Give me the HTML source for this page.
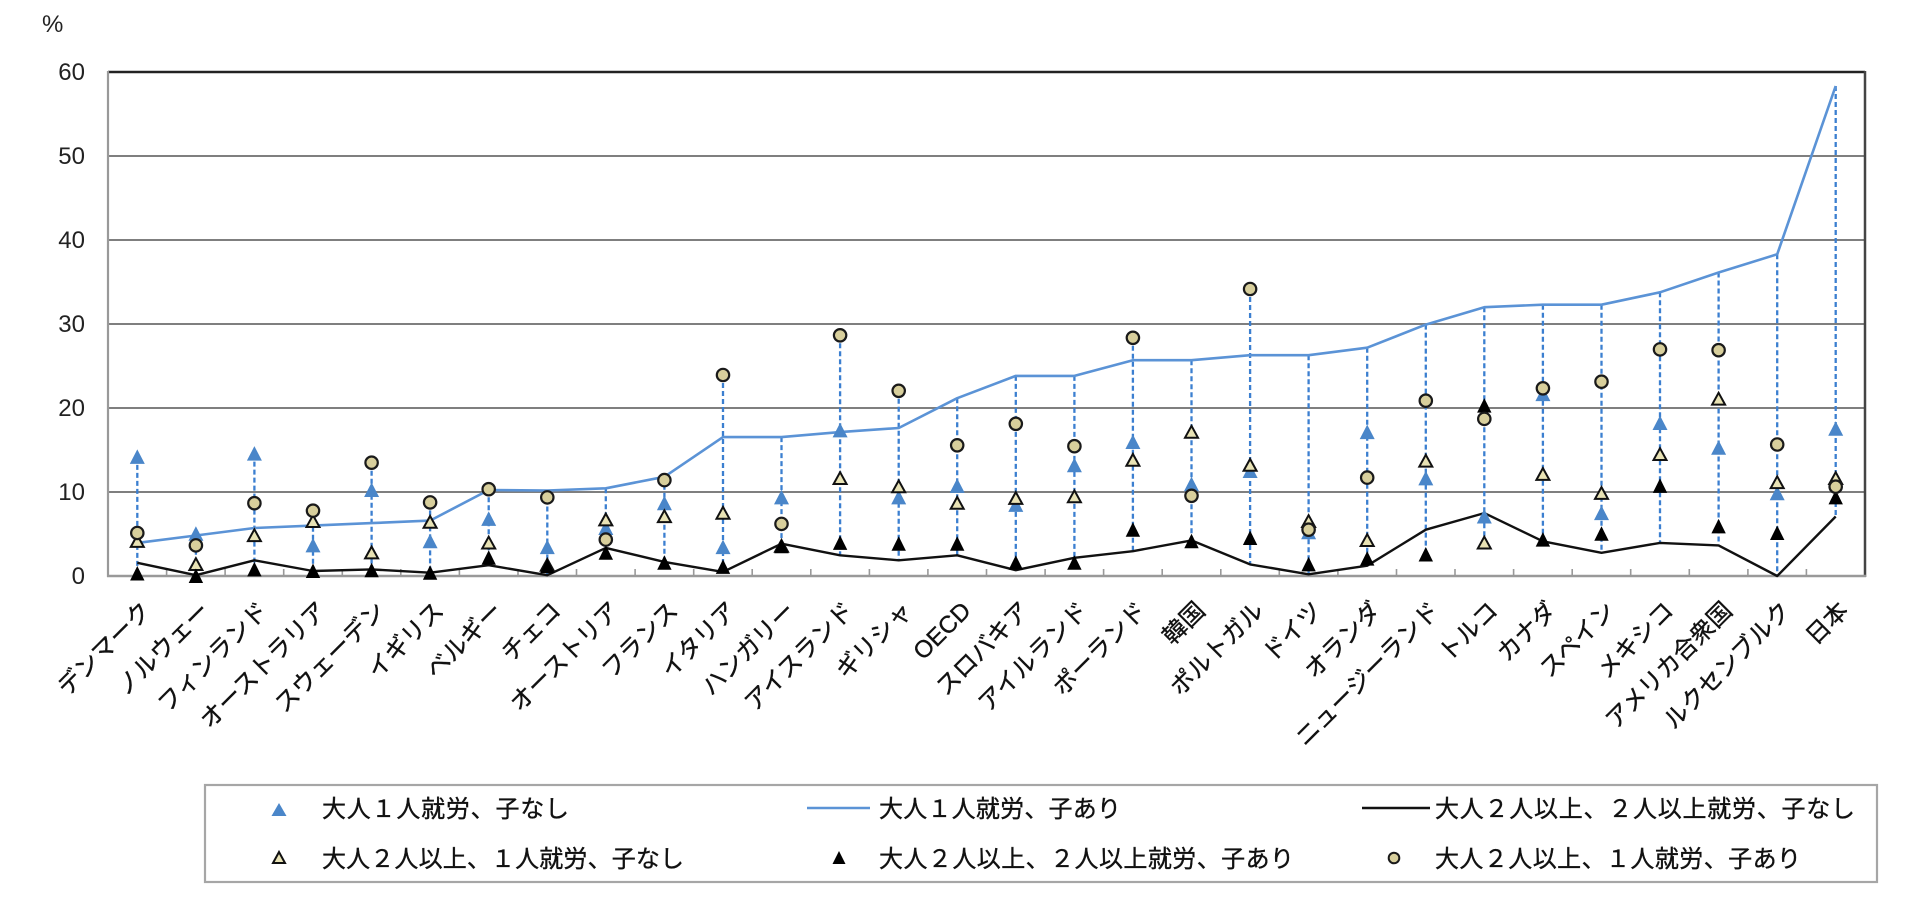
<!DOCTYPE html>
<html><head><meta charset="utf-8"><style>
html,body{margin:0;padding:0;background:#fff;}
svg{display:block;}
.yl{font-family:"Liberation Sans","Noto Sans CJK JP",sans-serif;font-size:24px;fill:#222;}
.xl{font-family:"Liberation Sans","Noto Sans CJK JP",sans-serif;font-size:24px;fill:#111;stroke:#111;stroke-width:0.35px;}
.lg{font-family:"Liberation Sans","Noto Sans CJK JP",sans-serif;font-size:24px;fill:#111;stroke:#111;stroke-width:0.35px;}
</style></head><body>
<svg width="1930" height="918" viewBox="0 0 1930 918" xmlns="http://www.w3.org/2000/svg">
<defs>
<path id="bt" d="M0,-7.5L7.5,7L-7.5,7Z" fill="#4a86c9"/>
<path id="ht" d="M0,-6.2L6.5,5.6L-6.5,5.6Z" fill="#e9e3b5" stroke="#111" stroke-width="2" stroke-linejoin="miter"/>
<path id="kt" d="M0,-7.5L7.2,7L-7.2,7Z" fill="#000"/>
<circle id="ci" r="6.2" fill="#d8cf9c" stroke="#1a1a1a" stroke-width="2.2"/>
</defs>
<rect width="1930" height="918" fill="#fff"/>

<text x="42" y="32" class="yl" font-size="22">%</text>

<g stroke="#7f7f7f" stroke-width="2">
<line x1="108" y1="156" x2="1865" y2="156"/>
<line x1="108" y1="240" x2="1865" y2="240"/>
<line x1="108" y1="324" x2="1865" y2="324"/>
<line x1="108" y1="408" x2="1865" y2="408"/>
<line x1="108" y1="492" x2="1865" y2="492"/>
</g>
<line x1="108" y1="72" x2="1865" y2="72" stroke="#222" stroke-width="2.5"/>
<line x1="108" y1="71" x2="108" y2="577" stroke="#999" stroke-width="2.2"/>
<line x1="1865" y1="71" x2="1865" y2="577" stroke="#444" stroke-width="2.5"/>
<line x1="107" y1="576" x2="1866" y2="576" stroke="#999" stroke-width="2.5"/>
<path stroke="#999" stroke-width="1.6" fill="none" d="M166.6,576v-7M225.1,576v-7M283.7,576v-7M342.3,576v-7M400.8,576v-7M459.4,576v-7M518,576v-7M576.5,576v-7M635.1,576v-7M693.7,576v-7M752.2,576v-7M810.8,576v-7M869.4,576v-7M927.9,576v-7M986.5,576v-7M1045.1,576v-7M1103.6,576v-7M1162.2,576v-7M1220.8,576v-7M1279.3,576v-7M1337.9,576v-7M1396.5,576v-7M1455,576v-7M1513.6,576v-7M1572.2,576v-7M1630.7,576v-7M1689.3,576v-7M1747.9,576v-7M1806.4,576v-7"/>

<g class="yl" text-anchor="end">
<text x="85" y="80">60</text>
<text x="85" y="164">50</text>
<text x="85" y="248">40</text>
<text x="85" y="332">30</text>
<text x="85" y="416">20</text>
<text x="85" y="500">10</text>
<text x="85" y="584">0</text>
</g>

<path stroke="#3b7fd0" stroke-width="2.3" stroke-dasharray="5 3" fill="none" d="M137.3,456.9V573.5M195.9,533.8V576M254.4,453.6V569.4M313,510.7V571M371.6,462.7V570.2M430.1,502.4V572.7M488.7,489.2V565.2M547.3,490.5V575.2M605.8,488.3V552.8M664.4,476.8V562.8M723,375V571.9M781.5,437.1V546.2M840.1,335.3V555.3M898.7,390.8V560.3M957.2,398.2V555.3M1015.8,375.9V570.2M1074.4,375.9V562.8M1132.9,337.8V551.2M1191.5,360.2V541.3M1250.1,289V564.4M1308.6,355.2V574.3M1367.2,347.7V565.7M1425.8,324.6V554.5M1484.3,307.2V542.9M1542.9,304.7V541.3M1601.5,304.7V552.8M1660,292.3V542.9M1718.6,272.5V545.4M1777.2,254.3V576M1835.7,86V516.5"/>

<polyline fill="none" stroke="#5b93d6" stroke-width="2.6" stroke-linejoin="round" points="137.3,542.9 195.9,535.5 254.4,528.0 313.0,525.6 371.6,523.1 430.1,520.6 488.7,490.0 547.3,490.5 605.8,488.3 664.4,476.8 723.0,437.1 781.5,437.1 840.1,432.1 898.7,428.0 957.2,398.2 1015.8,375.9 1074.4,375.9 1132.9,360.2 1191.5,360.2 1250.1,355.2 1308.6,355.2 1367.2,347.7 1425.8,324.6 1484.3,307.2 1542.9,304.7 1601.5,304.7 1660.0,292.3 1718.6,272.5 1777.2,254.3 1835.7,86"/>
<polyline fill="none" stroke="#111" stroke-width="2.4" stroke-linejoin="round" points="137.3,562.8 195.9,575.2 254.4,560.3 313.0,571.0 371.6,569.4 430.1,572.7 488.7,565.2 547.3,575.2 605.8,547.9 664.4,561.9 723.0,571.9 781.5,543.7 840.1,555.3 898.7,560.3 957.2,555.3 1015.8,570.2 1074.4,557.8 1132.9,551.2 1191.5,540.4 1250.1,564.4 1308.6,574.3 1367.2,565.7 1425.8,529.7 1484.3,513.1 1542.9,541.3 1601.5,552.8 1660.0,542.9 1718.6,545.4 1777.2,576 1835.7,516.5"/>

<g>
<use href="#bt" x="137.3" y="456.9"/><use href="#bt" x="195.9" y="533.8"/><use href="#bt" x="254.4" y="453.6"/><use href="#bt" x="313" y="545.4"/><use href="#bt" x="371.6" y="490"/><use href="#bt" x="430.1" y="541.3"/><use href="#bt" x="488.7" y="518.9"/><use href="#bt" x="547.3" y="547.1"/><use href="#bt" x="605.8" y="528"/><use href="#bt" x="664.4" y="503.2"/><use href="#bt" x="723" y="547.1"/><use href="#bt" x="781.5" y="497.4"/><use href="#bt" x="840.1" y="430.4"/><use href="#bt" x="898.7" y="497.4"/><use href="#bt" x="957.2" y="485.9"/><use href="#bt" x="1015.8" y="504.9"/><use href="#bt" x="1074.4" y="465.2"/><use href="#bt" x="1132.9" y="442"/><use href="#bt" x="1191.5" y="484.2"/><use href="#bt" x="1250.1" y="471"/><use href="#bt" x="1308.6" y="532.2"/><use href="#bt" x="1367.2" y="432.1"/><use href="#bt" x="1425.8" y="478.4"/><use href="#bt" x="1484.3" y="516.5"/><use href="#bt" x="1542.9" y="394.1"/><use href="#bt" x="1601.5" y="513.1"/><use href="#bt" x="1660" y="423"/><use href="#bt" x="1718.6" y="447.8"/><use href="#bt" x="1777.2" y="493.3"/><use href="#bt" x="1835.7" y="428.8"/>
</g>
<g>
<use href="#ht" x="137.3" y="541.3"/><use href="#ht" x="195.9" y="564.4"/><use href="#ht" x="254.4" y="535.5"/><use href="#ht" x="313" y="521.4"/><use href="#ht" x="371.6" y="552.8"/><use href="#ht" x="430.1" y="522.2"/><use href="#ht" x="488.7" y="542.9"/><use href="#ht" x="547.3" y="565.2"/><use href="#ht" x="605.8" y="519.8"/><use href="#ht" x="664.4" y="516.5"/><use href="#ht" x="723" y="513.1"/><use href="#ht" x="781.5" y="546.2"/><use href="#ht" x="840.1" y="478.4"/><use href="#ht" x="898.7" y="486.7"/><use href="#ht" x="957.2" y="503.2"/><use href="#ht" x="1015.8" y="498.3"/><use href="#ht" x="1074.4" y="496.6"/><use href="#ht" x="1132.9" y="460.2"/><use href="#ht" x="1191.5" y="432.1"/><use href="#ht" x="1250.1" y="465.2"/><use href="#ht" x="1308.6" y="521.4"/><use href="#ht" x="1367.2" y="540.4"/><use href="#ht" x="1425.8" y="461"/><use href="#ht" x="1484.3" y="542.9"/><use href="#ht" x="1542.9" y="474.3"/><use href="#ht" x="1601.5" y="493.3"/><use href="#ht" x="1660" y="454.4"/><use href="#ht" x="1718.6" y="399"/><use href="#ht" x="1777.2" y="482.5"/><use href="#ht" x="1835.7" y="478.4"/>
</g>
<g>
<use href="#kt" x="137.3" y="573.5"/><use href="#kt" x="195.9" y="576"/><use href="#kt" x="254.4" y="569.4"/><use href="#kt" x="313" y="571"/><use href="#kt" x="371.6" y="570.2"/><use href="#kt" x="430.1" y="572.7"/><use href="#kt" x="488.7" y="557.8"/><use href="#kt" x="547.3" y="566.1"/><use href="#kt" x="605.8" y="552.8"/><use href="#kt" x="664.4" y="562.8"/><use href="#kt" x="723" y="566.9"/><use href="#kt" x="781.5" y="546.2"/><use href="#kt" x="840.1" y="542.9"/><use href="#kt" x="898.7" y="543.7"/><use href="#kt" x="957.2" y="543.7"/><use href="#kt" x="1015.8" y="562.8"/><use href="#kt" x="1074.4" y="562.8"/><use href="#kt" x="1132.9" y="529.7"/><use href="#kt" x="1191.5" y="541.3"/><use href="#kt" x="1250.1" y="538"/><use href="#kt" x="1308.6" y="564.4"/><use href="#kt" x="1367.2" y="558.6"/><use href="#kt" x="1425.8" y="554.5"/><use href="#kt" x="1484.3" y="405.6"/><use href="#kt" x="1542.9" y="539.6"/><use href="#kt" x="1601.5" y="533.8"/><use href="#kt" x="1660" y="485.9"/><use href="#kt" x="1718.6" y="526.4"/><use href="#kt" x="1777.2" y="533"/><use href="#kt" x="1835.7" y="497.4"/>
</g>
<g>
<use href="#ci" x="137.3" y="533"/><use href="#ci" x="195.9" y="545.4"/><use href="#ci" x="254.4" y="503.2"/><use href="#ci" x="313" y="510.7"/><use href="#ci" x="371.6" y="462.7"/><use href="#ci" x="430.1" y="502.4"/><use href="#ci" x="488.7" y="489.2"/><use href="#ci" x="547.3" y="497.4"/><use href="#ci" x="605.8" y="539.6"/><use href="#ci" x="664.4" y="480.1"/><use href="#ci" x="723" y="375"/><use href="#ci" x="781.5" y="523.9"/><use href="#ci" x="840.1" y="335.3"/><use href="#ci" x="898.7" y="390.8"/><use href="#ci" x="957.2" y="445.3"/><use href="#ci" x="1015.8" y="423.8"/><use href="#ci" x="1074.4" y="446.2"/><use href="#ci" x="1132.9" y="337.8"/><use href="#ci" x="1191.5" y="495.8"/><use href="#ci" x="1250.1" y="289"/><use href="#ci" x="1308.6" y="529.7"/><use href="#ci" x="1367.2" y="477.6"/><use href="#ci" x="1425.8" y="400.7"/><use href="#ci" x="1484.3" y="418.9"/><use href="#ci" x="1542.9" y="388.3"/><use href="#ci" x="1601.5" y="381.7"/><use href="#ci" x="1660" y="349.4"/><use href="#ci" x="1718.6" y="350.2"/><use href="#ci" x="1777.2" y="444.5"/><use href="#ci" x="1835.7" y="486.7"/>
</g>

<g class="xl" text-anchor="end">
<text transform="translate(152.3,612) rotate(-45)">デンマーク</text>
<text transform="translate(210.9,612) rotate(-45)">ノルウェー</text>
<text transform="translate(269.4,612) rotate(-45)">フィンランド</text>
<text transform="translate(328,612) rotate(-45)">オーストラリア</text>
<text transform="translate(386.6,612) rotate(-45)">スウェーデン</text>
<text transform="translate(445.1,612) rotate(-45)">イギリス</text>
<text transform="translate(503.7,612) rotate(-45)">ベルギー</text>
<text transform="translate(562.3,612) rotate(-45)">チェコ</text>
<text transform="translate(620.8,612) rotate(-45)">オーストリア</text>
<text transform="translate(679.4,612) rotate(-45)">フランス</text>
<text transform="translate(738,612) rotate(-45)">イタリア</text>
<text transform="translate(796.5,612) rotate(-45)">ハンガリー</text>
<text transform="translate(855.1,612) rotate(-45)">アイスランド</text>
<text transform="translate(913.7,612) rotate(-45)">ギリシャ</text>
<text transform="translate(972.2,612) rotate(-45)">OECD</text>
<text transform="translate(1030.8,612) rotate(-45)">スロバキア</text>
<text transform="translate(1089.4,612) rotate(-45)">アイルランド</text>
<text transform="translate(1147.9,612) rotate(-45)">ポーランド</text>
<text transform="translate(1206.5,612) rotate(-45)">韓国</text>
<text transform="translate(1265.1,612) rotate(-45)">ポルトガル</text>
<text transform="translate(1323.6,612) rotate(-45)">ドイツ</text>
<text transform="translate(1382.2,612) rotate(-45)">オランダ</text>
<text transform="translate(1440.8,612) rotate(-45)">ニュージーランド</text>
<text transform="translate(1499.3,612) rotate(-45)">トルコ</text>
<text transform="translate(1557.9,612) rotate(-45)">カナダ</text>
<text transform="translate(1616.5,612) rotate(-45)">スペイン</text>
<text transform="translate(1675,612) rotate(-45)">メキシコ</text>
<text transform="translate(1733.6,612) rotate(-45)">アメリカ合衆国</text>
<text transform="translate(1792.2,612) rotate(-45)">ルクセンブルク</text>
<text transform="translate(1849.7,612) rotate(-45)">日本</text>
</g>

<rect x="205" y="785" width="1672" height="97" fill="#fff" stroke="#a6a6a6" stroke-width="2.2"/>
<path d="M279,803L286.5,816L271.5,816Z" fill="#4a86c9"/>
<line x1="807" y1="808" x2="870" y2="808" stroke="#5b93d6" stroke-width="2.6"/>
<line x1="1362" y1="808" x2="1430" y2="808" stroke="#111" stroke-width="2.4"/>
<path d="M279,852L285,863L273,863Z" fill="#e9e3b5" stroke="#111" stroke-width="2"/>
<path d="M839,851L845.5,864L832.5,864Z" fill="#000"/>
<circle cx="1394" cy="858" r="5.3" fill="#d8cf9c" stroke="#1a1a1a" stroke-width="2"/>
<g class="lg">
<text x="322" y="817" textLength="247" lengthAdjust="spacing">大人１人就労、子なし</text>
<text x="879" y="817" textLength="242" lengthAdjust="spacing">大人１人就労、子あり</text>
<text x="1435" y="817" textLength="420" lengthAdjust="spacing">大人２人以上、２人以上就労、子なし</text>
<text x="322" y="867" textLength="362" lengthAdjust="spacing">大人２人以上、１人就労、子なし</text>
<text x="879" y="867" textLength="415" lengthAdjust="spacing">大人２人以上、２人以上就労、子あり</text>
<text x="1435" y="867" textLength="366" lengthAdjust="spacing">大人２人以上、１人就労、子あり</text>
</g>
</svg>
</body></html>
